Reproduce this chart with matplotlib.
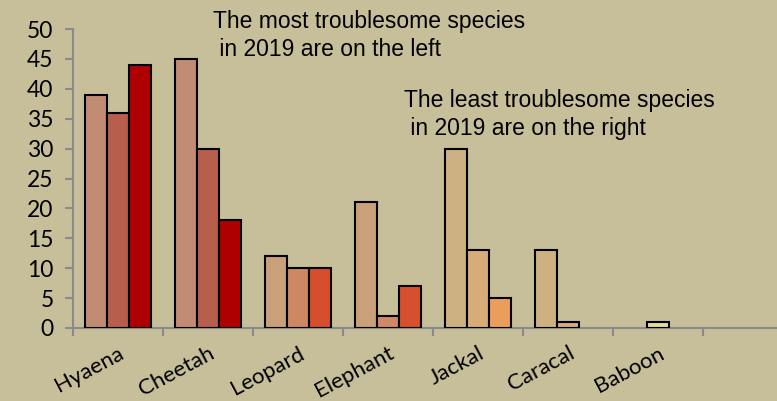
import matplotlib.pyplot as plt
import numpy as np

# data
species = ["Hyaena", "Cheetah", "Leopard", "Elephant", "Jackal", "Caracal", "Baboon"]
year_a = [39, 45, 12, 21, 30, 13, 0]
year_b = [36, 30, 10, 2, 13, 1, 1]
year_c = [44, 18, 10, 7, 5, 0, 0]

# per-bar colours (vary by point)
colors_a = ["#C18C73", "#C18C73", "#C9A07A", "#C9A07A", "#CDB183", "#CDB183", "#E6DA98"]
colors_b = ["#B85E4D", "#B85E4D", "#CE8763", "#D08866", "#D8AC78", "#D8AA75", "#E6DA98"]
colors_c = ["#AE0000", "#AE0000", "#D64E2D", "#D6502E", "#EB9E5C", "#EB9E5C", "#E6DA98"]

bg = "#C6BF9A"
fig = plt.figure(figsize=(7.77, 4.01), dpi=100, facecolor=bg)
ax = fig.add_axes([73 / 777, 1 - 328 / 401, 1 - 73 / 777, (328 - 29) / 401])
ax.set_facecolor(bg)

x = np.arange(len(species))
w = 0.248
for off, vals, cols in [(-w, year_a, colors_a), (0, year_b, colors_b), (w, year_c, colors_c)]:
    for xi, v, c in zip(x, vals, cols):
        if v > 0:
            ax.bar(xi + off, v, width=w, color=c, edgecolor="black", linewidth=1.5, zorder=3)

ax.set_yticks(range(0, 51, 5))
ax.set_xticks(np.arange(-0.5, 8, 1))
ax.set_xticklabels([])
ax.set_xticks(x, minor=True)
ax.set_xticklabels(species, minor=True, rotation=28, ha="right", rotation_mode="anchor",
                   fontsize=16, family="Lato")
ax.set_ylim(0, 50)
ax.set_xlim(-0.5, (777 - 73) / 90 - 0.5)
ax.tick_params(axis="x", which="minor", length=0, pad=11)
ax.tick_params(axis="x", which="major", length=6, color="#8A8A8A", width=1.5)
ax.tick_params(axis="y", length=6, color="#8A8A8A", width=1.5, pad=8)
ax.set_yticklabels([str(v) for v in range(0, 51, 5)], fontsize=16.5, family="Lato")

for s in ["top", "right"]:
    ax.spines[s].set_visible(False)
for s in ["left", "bottom"]:
    ax.spines[s].set_color("#8A8A8A")
    ax.spines[s].set_linewidth(1.5)

fig.text(213 / 777, 1 - 10 / 401, "The most troublesome species\n in 2019 are on the left",
         fontsize=16.5, family="Liberation Sans", va="top", ha="left", linespacing=1.25)
fig.text(404 / 777, 1 - 89 / 401, "The least troublesome species\n in 2019 are on the right",
         fontsize=16.5, family="Liberation Sans", va="top", ha="left", linespacing=1.25)

fig.savefig("out.png", dpi=100, facecolor=bg)
